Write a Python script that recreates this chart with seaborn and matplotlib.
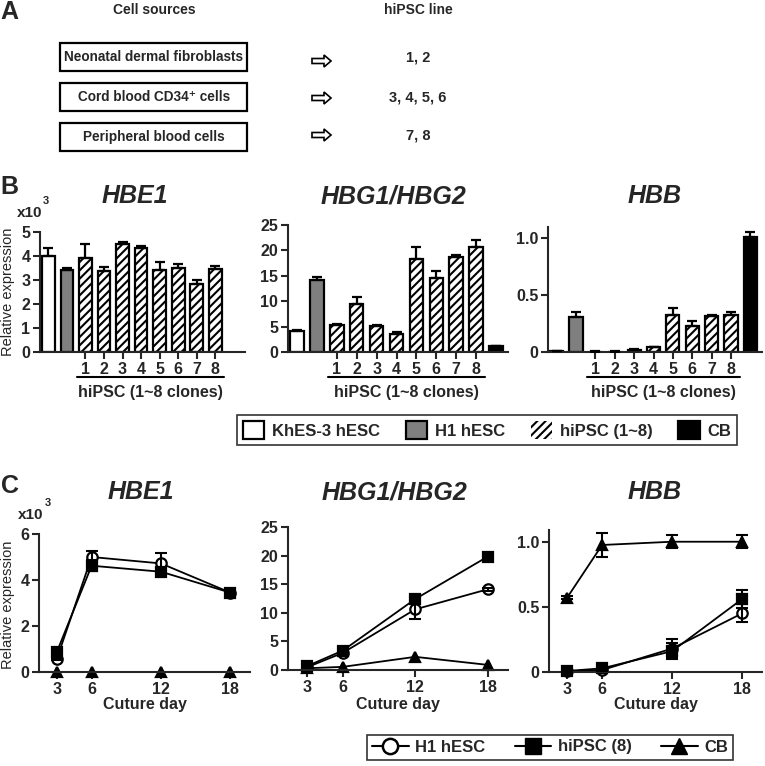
import numpy as np
import pandas as pd
import matplotlib
matplotlib.use('Agg')
import matplotlib.pyplot as plt
import seaborn as sns
from matplotlib.patches import Patch, Rectangle, FancyArrow
from matplotlib.lines import Line2D
from matplotlib.transforms import blended_transform_factory

# ---------------- data ----------------
cell_sources = ['Neonatal dermal fibroblasts', 'Cord blood CD34\u207a cells', 'Peripheral blood cells']
hipsc_lines = ['1, 2', '3, 4, 5, 6', '7, 8']

bar_labels = ['KhES-3', 'H1', '1', '2', '3', '4', '5', '6', '7', '8', 'CB']
bar_groups = ['KhES-3 hESC', 'H1 hESC'] + ['hiPSC (1~8)'] * 8 + ['CB']
group_order = ['KhES-3 hESC', 'H1 hESC', 'hiPSC (1~8)', 'CB']
group_colors = {'KhES-3 hESC': '#ffffff', 'H1 hESC': '#7f7f7f', 'hiPSC (1~8)': '#ffffff', 'CB': '#000000'}

hbe1_bar = [4.0, 3.43, 3.93, 3.37, 4.52, 4.32, 3.40, 3.51, 2.85, 3.47, np.nan]
hbe1_bar_err = [0.35, 0.06, 0.55, 0.18, 0.08, 0.08, 0.33, 0.15, 0.17, 0.10, np.nan]
hbg_bar = [4.2, 14.2, 5.3, 9.5, 5.2, 3.6, 18.3, 14.5, 18.7, 20.6, 1.1]
hbg_bar_err = [0.15, 0.5, 0.2, 1.3, 0.15, 0.4, 2.4, 1.4, 0.4, 1.5, 0.15]
hbb_bar = [0.005, 0.31, 0.004, 0.004, 0.02, 0.04, 0.33, 0.23, 0.315, 0.33, 1.01]
hbb_bar_err = [0.002, 0.04, 0.002, 0.002, 0.005, 0.008, 0.06, 0.045, 0.015, 0.025, 0.045]

days = [3, 6, 12, 18]
line_series = ['H1 hESC', 'hiPSC (8)', 'CB']
hbe1_h1 = [0.58, 5.0, 4.72, 3.45]
hbe1_h1_err = [0.05, 0.28, 0.45, 0.08]
hbe1_ips = [0.88, 4.62, 4.36, 3.45]
hbe1_ips_err = [0.05, 0.25, 0.18, 0.08]
hbe1_cb = [0.0, 0.0, 0.0, 0.0]
hbe1_cb_err = [0.0, 0.0, 0.0, 0.0]
hbg_h1 = [0.45, 3.0, 10.6, 14.1]
hbg_h1_err = [0.1, 0.3, 1.6, 0.3]
hbg_ips = [0.65, 3.4, 12.4, 19.8]
hbg_ips_err = [0.1, 0.3, 0.6, 0.4]
hbg_cb = [0.3, 0.55, 2.3, 0.9]
hbg_cb_err = [0.0, 0.0, 0.0, 0.0]
hbb_h1 = [0.005, 0.015, 0.18, 0.45]
hbb_h1_err = [0.003, 0.005, 0.07, 0.07]
hbb_ips = [0.008, 0.028, 0.16, 0.56]
hbb_ips_err = [0.003, 0.005, 0.06, 0.07]
hbb_cb = [0.57, 0.975, 1.0, 1.0]
hbb_cb_err = [0.01, 0.09, 0.05, 0.05]

# ---------------- style ----------------
sns.set_style('ticks')
plt.rcParams['font.family'] = ['Liberation Sans', 'DejaVu Sans']
plt.rcParams['font.weight'] = 'bold'
plt.rcParams['hatch.linewidth'] = 1.5
plt.rcParams['axes.linewidth'] = 1.5

W, H = 765, 766
fig = plt.figure(figsize=(W / 100, H / 100), dpi=100)


def fx(px):
    return px / W


def fy(py):
    return 1 - py / H


def add_ax(l, b, r, t):
    return fig.add_axes([fx(l), fy(b), (r - l) / W, (b - t) / H])


FAM = ['Liberation Sans', 'DejaVu Sans']

# ---------------- Panel A ----------------
fig.text(fx(9), fy(12), 'A', fontsize=18, ha='center', va='center')
fig.text(fx(154), fy(10), 'Cell sources', family=FAM, fontsize=10, ha='center', va='center')
fig.text(fx(418), fy(10), 'hiPSC line', family=FAM, fontsize=10, ha='center', va='center')
box_rows = [(43, 71), (83, 111), (123, 151)]
num_y = [57, 97, 135]
arrow_y = [61, 98, 135]
for (t, b), src, ny, ay, lines in zip(box_rows, cell_sources, num_y, arrow_y, hipsc_lines):
    fig.add_artist(Rectangle((fx(60), fy(b)), (247 - 60) / W, (b - t) / H, transform=fig.transFigure,
                             facecolor='white', edgecolor='black', linewidth=1.6))
    fig.text(fx(154), fy((t + b) / 2), src, family=FAM, fontsize=9.8, ha='center', va='center')
    fig.add_artist(FancyArrow(fx(312), fy(ay), (324 - 312) / W, 0, width=5 / H, head_width=12 / H,
                              head_length=7 / W, length_includes_head=False, transform=fig.transFigure,
                              facecolor='white', edgecolor='black', linewidth=1.2))
    fig.text(fx(418), fy(ny), lines, family=FAM, fontsize=10.5, ha='center', va='center')

# ---------------- Panel B ----------------
fig.text(fx(9), fy(187), 'B', fontsize=18, ha='center', va='center')


def bar_panel(ax, vals, errs, ymax, yticks, yticklabels, title, tx):
    df = pd.DataFrame({'label': bar_labels, 'value': vals, 'group': bar_groups}).dropna()
    sns.barplot(data=df, x='label', y='value', hue='group', order=bar_labels, hue_order=group_order,
                palette=group_colors, dodge=False, width=0.68, edgecolor='black', linewidth=1.6,
                errorbar=None, legend=False, ax=ax)
    for p in ax.patches:
        c = p.get_x() + p.get_width() / 2
        if np.isfinite(c) and 1.5 < c < 9.5:
            p.set_hatch('////')
    x = np.arange(len(bar_labels))
    v = np.array(vals, dtype=float)
    e = np.array(errs, dtype=float)
    m = np.isfinite(v)
    ax.errorbar(x[m], v[m], yerr=[np.zeros(m.sum()), e[m]], fmt='none', ecolor='black',
                elinewidth=1.6, capsize=3.5, capthick=1.6, zorder=3)
    sns.despine(ax=ax)
    ax.set_xlim(-0.45, 10.6)
    ax.set_ylim(0, ymax)
    ax.set_yticks(yticks)
    ax.set_yticklabels(yticklabels)
    ax.set_xticks(range(2, 10))
    ax.set_xticklabels([str(i) for i in range(1, 9)])
    ax.tick_params(axis='both', width=1.5, length=5, labelsize=11.5, pad=2)
    ax.set_xlabel('')
    ax.set_ylabel('')
    trans = blended_transform_factory(ax.transData, fig.transFigure)
    ax.plot([1.55, 9.45], [fy(377), fy(377)], transform=trans, clip_on=False, color='black', lw=1.5)
    ax.text(5.5, fy(392), 'hiPSC (1~8 clones)', transform=trans, ha='center', va='center', fontsize=11.5)
    ax.set_xlim(-0.45, 10.6)
    ax.set_ylim(0, ymax)
    fig.text(fx(tx), fy(196), title, fontsize=18, fontstyle='italic', ha='center', va='center')


axB1 = add_ax(40, 352, 245, 232)
bar_panel(axB1, hbe1_bar, hbe1_bar_err, 5, [0, 1, 2, 3, 4, 5], ['0', '1', '2', '3', '4', '5'], 'HBE1', 135)
axB2 = add_ax(288, 352, 508, 225)
bar_panel(axB2, hbg_bar, hbg_bar_err, 25, [0, 5, 10, 15, 20, 25], ['0', '5', '10', '15', '20', '25'],
          'HBG1/HBG2', 393)
axB3 = add_ax(548, 352, 762, 227)
bar_panel(axB3, hbb_bar, hbb_bar_err, 1.1, [0, 0.5, 1.0], ['0', '0.5', '1.0'], 'HBB', 655)

fig.text(fx(8), fy(292), 'Relative expression', rotation=90, fontsize=10.5, fontweight='normal',
         ha='center', va='center')
fig.text(fx(30), fy(213), 'x10', fontsize=11, ha='center', va='center')
fig.text(fx(46), fy(201), '3', fontsize=8, ha='center', va='center')

handles_b = [Patch(facecolor='white', edgecolor='black', linewidth=1.6),
             Patch(facecolor='#7f7f7f', edgecolor='black', linewidth=1.6),
             Patch(facecolor='white', edgecolor='black', linewidth=0, hatch='////'),
             Patch(facecolor='black', edgecolor='black', linewidth=1.6)]
legB = fig.legend(handles_b, group_order, loc='center', bbox_to_anchor=(fx(487), fy(430)), ncol=4,
                  frameon=True, fancybox=False, edgecolor='black', handlelength=1.3, handleheight=1.3,
                  columnspacing=1.55, handletextpad=0.45, borderpad=0.35, prop={'weight': 'bold', 'size': 12})
legB.get_frame().set_linewidth(1.2)

# ---------------- Panel C ----------------
fig.text(fx(10), fy(486), 'C', fontsize=18, ha='center', va='center')


def line_panel(ax, series, ylim, yticks, yticklabels, title, tx):
    styles = {'H1 hESC': dict(marker='o', markerfacecolor='white'),
              'hiPSC (8)': dict(marker='s', markerfacecolor='black'),
              'CB': dict(marker='^', markerfacecolor='black')}
    for name, vals, errs in series:
        df = pd.DataFrame({'day': days, 'value': vals})
        sns.lineplot(data=df, x='day', y='value', color='black', linewidth=1.3, markersize=7.5,
                     markeredgecolor='black', markeredgewidth=1.6, clip_on=False, ax=ax, **styles[name])
        if np.any(np.array(errs) > 0):
            ax.errorbar(days, vals, yerr=errs, fmt='none', ecolor='black', elinewidth=1.5,
                        capsize=4, capthick=1.5, zorder=3, clip_on=False)
    sns.despine(ax=ax)
    ax.set_xlim(1.45, 19.7)
    ax.set_ylim(*ylim)
    ax.set_xticks(days)
    ax.set_xticklabels([str(d) for d in days])
    ax.set_yticks(yticks)
    ax.set_yticklabels(yticklabels)
    ax.tick_params(axis='both', width=1.5, length=5, labelsize=11.5, pad=2)
    ax.set_xlabel('')
    ax.set_ylabel('')
    trans = blended_transform_factory(ax.transAxes, fig.transFigure)
    ax.text(0.5, fy(705), 'Cuture day', transform=trans, ha='center', va='center', fontsize=11.5)
    fig.text(fx(tx), fy(492), title, fontsize=18, fontstyle='italic', ha='center', va='center')


axC1 = add_ax(39, 672, 250, 534)
line_panel(axC1, [('H1 hESC', hbe1_h1, hbe1_h1_err), ('hiPSC (8)', hbe1_ips, hbe1_ips_err),
                  ('CB', hbe1_cb, hbe1_cb_err)], (0, 6), [0, 2, 4, 6], ['0', '2', '4', '6'], 'HBE1', 141)
axC2 = add_ax(288, 670, 508, 527)
line_panel(axC2, [('H1 hESC', hbg_h1, hbg_h1_err), ('hiPSC (8)', hbg_ips, hbg_ips_err),
                  ('CB', hbg_cb, hbg_cb_err)], (0, 25), [0, 5, 10, 15, 20, 25],
           ['0', '5', '10', '15', '20', '25'], 'HBG1/HBG2', 394)
axC3 = add_ax(549, 672, 762, 530)
line_panel(axC3, [('H1 hESC', hbb_h1, hbb_h1_err), ('hiPSC (8)', hbb_ips, hbb_ips_err),
                  ('CB', hbb_cb, hbb_cb_err)], (0, 1.09), [0, 0.5, 1.0], ['0', '0.5', '1.0'], 'HBB', 655)

fig.text(fx(8), fy(605), 'Relative expression', rotation=90, fontsize=10.5, fontweight='normal',
         ha='center', va='center')
fig.text(fx(31), fy(515), 'x10', fontsize=11, ha='center', va='center')
fig.text(fx(48), fy(503), '3', fontsize=8, ha='center', va='center')

handles_c = [Line2D([0], [0], color='black', lw=1.5, marker='o', markersize=11, markerfacecolor='white',
                    markeredgecolor='black', markeredgewidth=1.8),
             Line2D([0], [0], color='black', lw=1.5, marker='s', markersize=11, markerfacecolor='black'),
             Line2D([0], [0], color='black', lw=1.5, marker='^', markersize=11, markerfacecolor='black')]
legC = fig.legend(handles_c, line_series, loc='center', bbox_to_anchor=(fx(550), fy(747)), ncol=3,
                  frameon=True, fancybox=False, edgecolor='black', handlelength=2.2,
                  columnspacing=1.75, handletextpad=0.4, borderpad=0.3, prop={'weight': 'bold', 'size': 12})
legC.get_frame().set_linewidth(1.2)

fig.savefig('out.png', dpi=100)
